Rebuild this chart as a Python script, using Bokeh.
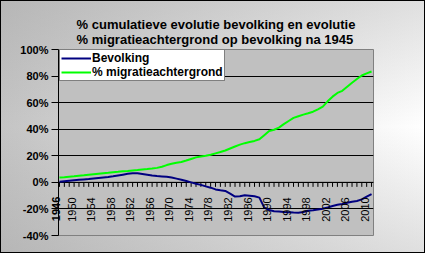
import math
from bokeh.plotting import figure
from bokeh.models import (Range1d, FixedTicker, PrintfTickFormatter, Span,
                          LabelSet, Legend, LegendItem, ColumnDataSource, LinearAxis)
from bokeh.embed import file_html
from bokeh.resources import INLINE
from bokeh.core.properties import value

# ---- data ----
years = list(range(1946, 2011))
bevolking = [0.4, 0.8, 1.2, 1.6, 1.9, 2.2, 2.5, 2.9, 3.3, 3.7,
             4.1, 4.6, 5.2, 5.8, 6.4, 6.8, 6.8, 6.3, 5.8, 5.2,
             4.8, 4.5, 4.2, 3.6, 2.8, 2.0, 1.0, 0.0, -1.0, -1.9,
             -3.0, -4.0, -5.3, -6.0, -6.5, -8.5, -10.7, -10.5, -9.7, -10.0,
             -10.5, -11.5, -19.0, -20.8, -21.8, -22.0, -22.3, -22.5, -22.7, -22.8,
             -22.3, -21.4, -21.0, -20.4, -19.8, -18.9, -17.8, -16.9, -16.3, -15.4,
             -14.6, -14.0, -12.8, -10.8, -8.9]
migratie = [3.6, 3.9, 4.3, 4.6, 5.0, 5.3, 5.7, 6.1, 6.5, 6.9,
            7.2, 7.6, 7.9, 8.3, 8.6, 9.0, 9.3, 9.7, 10.0, 10.4,
            10.9, 11.8, 13.0, 14.0, 14.8, 15.3, 16.4, 17.6, 18.8, 19.5,
            20.0, 20.8, 21.8, 22.8, 24.0, 25.5, 27.0, 28.4, 29.5, 30.4,
            31.2, 32.4, 35.5, 38.6, 39.6, 41.2, 43.8, 46.2, 48.5, 49.8,
            51.0, 52.0, 53.2, 55.0, 57.0, 61.0, 64.5, 67.3, 68.9, 72.0,
            75.0, 77.8, 80.4, 82.0, 83.4]
series_names = ["Bevolking", "% migratieachtergrond"]
y_ticks = [-40, -20, 0, 20, 40, 60, 80, 100]
x_label_years = list(range(1950, 2011, 4))
first_label = "1946"
title_lines = ["% cumulatieve evolutie bevolking en evolutie",
               "% migratieachtergrond op bevolking na 1945"]

FONT = "Liberation Sans"

p = figure(width=425, height=253, output_backend="svg", toolbar_location=None,
           x_range=Range1d(1945.8, 2010.4), y_range=Range1d(-40, 100),
           min_border_left=58, min_border_right=52, min_border_top=49,
           min_border_bottom=18, x_axis_location=None)
p.border_fill_color = None
p.background_fill_color = "#C0C0C0"
p.outline_line_color = "#808080"
p.styles = {
    "background-image": ("linear-gradient(to bottom, rgba(150,150,150,0.30), "
                         "rgba(150,150,150,0) 50%, rgba(150,150,150,0.30)), "
                         "linear-gradient(to right, #c4c4c4, #ffffff)"),
    "box-shadow": "inset 0 0 0 1px #000000",
}

# title (two lines)
p.title.text = "\n".join(title_lines)
p.title.align = "center"
p.title.vertical_align = "bottom"
p.title.text_font = FONT
p.title.text_font_size = "13px"
p.title.text_font_style = "bold"
p.title.text_color = "black"
p.title.standoff = 6

# inner y axis: axis line + tick marks; it also carries the first category
# label (which Excel draws just left of the plot area, over the tick marks)
ax0 = p.yaxis[0]
ax0.ticker = FixedTicker(ticks=y_ticks)
ax0.major_label_overrides = {t: (first_label if t == -20 else "") for t in y_ticks}
ax0.major_label_orientation = "vertical"
ax0.major_label_standoff = -9
ax0.major_label_text_font = FONT
ax0.major_label_text_font_size = "11px"
ax0.major_label_text_font_style = "bold"
ax0.major_label_text_color = "black"
ax0.major_tick_out = 7
ax0.major_tick_in = 0
ax0.minor_tick_out = 0
ax0.minor_tick_in = 0
ax0.axis_line_color = "black"
ax0.major_tick_line_color = "black"

# outer y axis: the percentage labels
ax1 = LinearAxis(ticker=FixedTicker(ticks=y_ticks),
                 formatter=PrintfTickFormatter(format="%d%%"),
                 major_label_standoff=1,
                 major_label_text_font=FONT,
                 major_label_text_font_size="11px",
                 major_label_text_font_style="bold",
                 major_label_text_color="black",
                 axis_line_color=None, major_tick_line_color=None,
                 major_tick_out=0, major_tick_in=0,
                 minor_tick_line_color=None, minor_tick_out=0, minor_tick_in=0)
p.add_layout(ax1, "left")

p.xgrid.visible = False
p.ygrid.ticker = FixedTicker(ticks=y_ticks[:-1])
p.ygrid.grid_line_color = "black"
p.ygrid.grid_line_width = 1

# category axis crossing at 0
p.add_layout(Span(location=0, dimension="width", line_color="black",
                  line_width=1, level="underlay"))
p.segment(x0=years, y0=[0] * len(years), x1=years, y1=[-3.4] * len(years),
          line_color="black", line_width=1, level="underlay")
lab_src = ColumnDataSource(dict(x=x_label_years, y=[0] * len(x_label_years),
                                t=[str(v) for v in x_label_years]))
p.add_layout(LabelSet(x="x", y="y", text="t", source=lab_src, angle=math.pi / 2,
                      text_align="right", text_baseline="middle",
                      x_offset=-7, y_offset=-15, text_font=value(FONT),
                      text_font_size="11px", text_color="black"))

src = ColumnDataSource(dict(year=years, bev=bevolking, mig=migratie))
r1 = p.line("year", "bev", source=src, line_color="#000080", line_width=2)
r2 = p.line("year", "mig", source=src, line_color="#00FF00", line_width=2)

legend = Legend(items=[LegendItem(label=series_names[0], renderers=[r1]),
                       LegendItem(label=series_names[1], renderers=[r2])],
                location=(1, 154), margin=0, padding=1, spacing=-5,
                glyph_width=30, glyph_height=10, label_standoff=1,
                label_height=10,
                label_text_font=FONT, label_text_font_size="12px",
                label_text_font_style="bold", label_text_color="black",
                border_line_color="black", border_line_width=1,
                background_fill_color="white", background_fill_alpha=1.0)
p.add_layout(legend)

open("out.html", "w").write(file_html(p, INLINE))
